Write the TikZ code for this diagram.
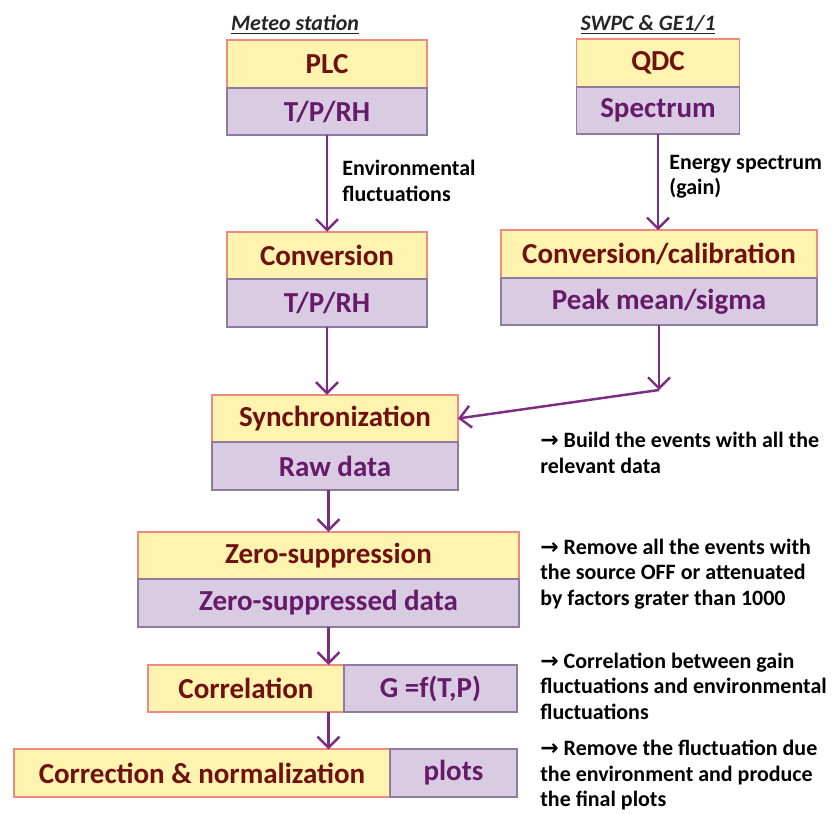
\documentclass[tikz,border=0pt]{standalone}
\usepackage{fontspec}
\setmainfont{Carlito}
\newfontfamily\arrowfont{DejaVu Sans}
\usetikzlibrary{arrows.meta,positioning}
\definecolor{headfill}{HTML}{FFF3B0}
\definecolor{headline}{HTML}{EE8A80}
\definecolor{headtext}{HTML}{70100F}
\definecolor{datafill}{HTML}{D9CCE2}
\definecolor{dataline}{HTML}{8E7B9E}
\definecolor{datatext}{HTML}{661A69}
\definecolor{flowcol}{HTML}{7B2D82}
\newcommand{\pointer}{{\arrowfont\bfseries →}}
\tikzset{>={Straight Barb[length=2.2mm,width=4.4mm]}}
\tikzset{
  head/.style={draw=headline, fill=headfill, text=headtext, line width=1pt,
    minimum height=0.95cm, inner sep=0pt, outer sep=0pt,
    font=\fontsize{16.5}{19}\selectfont\bfseries},
  data/.style={head, draw=dataline, fill=datafill, text=datatext},
  flow/.style={->, draw=flowcol, line width=1.4pt},
  note/.style={anchor=west, align=left, inner sep=0pt,
    font=\fontsize{12.5}{14.5}\selectfont\bfseries},
  source/.style={inner sep=0pt, text=black!85,
    font=\fontsize{12.5}{15}\selectfont\bfseries\itshape}
}

\begin{document}
\begin{tikzpicture}[x=0.02cm,y=-0.02cm]
    \useasboundingbox (0,0) rectangle (834,814);

    % sources
    \node[source] (meteo) at (295,25) {\underline{Meteo station}};
    \node[head, minimum width=4cm] (plc) at (327,64) {PLC};
    \node[data, minimum width=4cm, below=0pt of plc] (plcdata) {T/P/RH};
    \node[source] (swpc) at (648,25) {\underline{SWPC \& GE1/1}};
    \node[head, minimum width=3.26cm] (qdc) at (658,63) {QDC};
    \node[data, minimum width=3.26cm, below=0pt of qdc] (spectrum) {Spectrum};

    % conversion
    \node[head, minimum width=4cm] (conv) at (327,255.5) {Conversion};
    \node[data, minimum width=4cm, below=0pt of conv] (convdata) {T/P/RH};
    \node[head, minimum width=6.32cm] (calib) at (659,254) {Conversion/calibration};
    \node[data, minimum width=6.32cm, below=0pt of calib] (peak) {Peak mean/sigma};

    % processing chain
    \node[head, minimum width=4.92cm] (sync) at (335,418.5) {Synchronization};
    \node[data, minimum width=4.92cm, below=0pt of sync] (raw) {Raw data};
    \node[head, minimum width=7.62cm] (zero) at (328.5,555.5) {Zero-suppression};
    \node[data, minimum width=7.62cm, below=0pt of zero] (zerodata) {Zero-suppressed data};
    \node[head, minimum width=3.92cm] (corr) at (246,688.5) {Correlation};
    \node[data, minimum width=3.46cm, right=0pt of corr] (gain) {G =f(T,P)};
    \node[head, minimum width=7.52cm] (corrnorm) at (202,773) {Correction \& normalization};
    \node[data, minimum width=2.54cm, right=0pt of corrnorm] (plots) {plots};

    \coordinate (bend) at (659,390);

    \draw[flow] (plcdata.south) -- (conv.north);
    \draw[flow] (spectrum.south) -- (spectrum.south |- calib.north);
    \draw[flow] (convdata.south) -- (convdata.south |- sync.north);
    \draw[flow] (peak.south) -- (bend);
    \draw[flow] (bend) -- (sync.east);
    \draw[flow] (zero.north |- raw.south) -- (zero.north);
    \draw[flow] (zerodata.south) -- (zerodata.south |- corr.north);
    \draw[flow] (corr.south -| zerodata.south) -- (corrnorm.north -| zerodata.south);

    % labels
    \node[note] (envnote) at (342,181) {Environmental\\fluctuations};
    \node[note] (gainnote) at (669,176.5) {Energy spectrum\\(gain)};
    \node[note] (syncnote) at (540,453) {\pointer{} Build the events with all the\\relevant data};
    \node[note] (zeronote) at (540,574) {\pointer{} Remove all the events with\\the source OFF or attenuated\\by factors grater than 1000};
    \node[note] (corrnote) at (540,686) {\pointer{} Correlation between gain\\fluctuations and environmental\\fluctuations};
    \node[note] (normnote) at (540,775) {\pointer{} Remove the fluctuation due\\the environment and produce\\the final plots};
\end{tikzpicture}
\end{document}
